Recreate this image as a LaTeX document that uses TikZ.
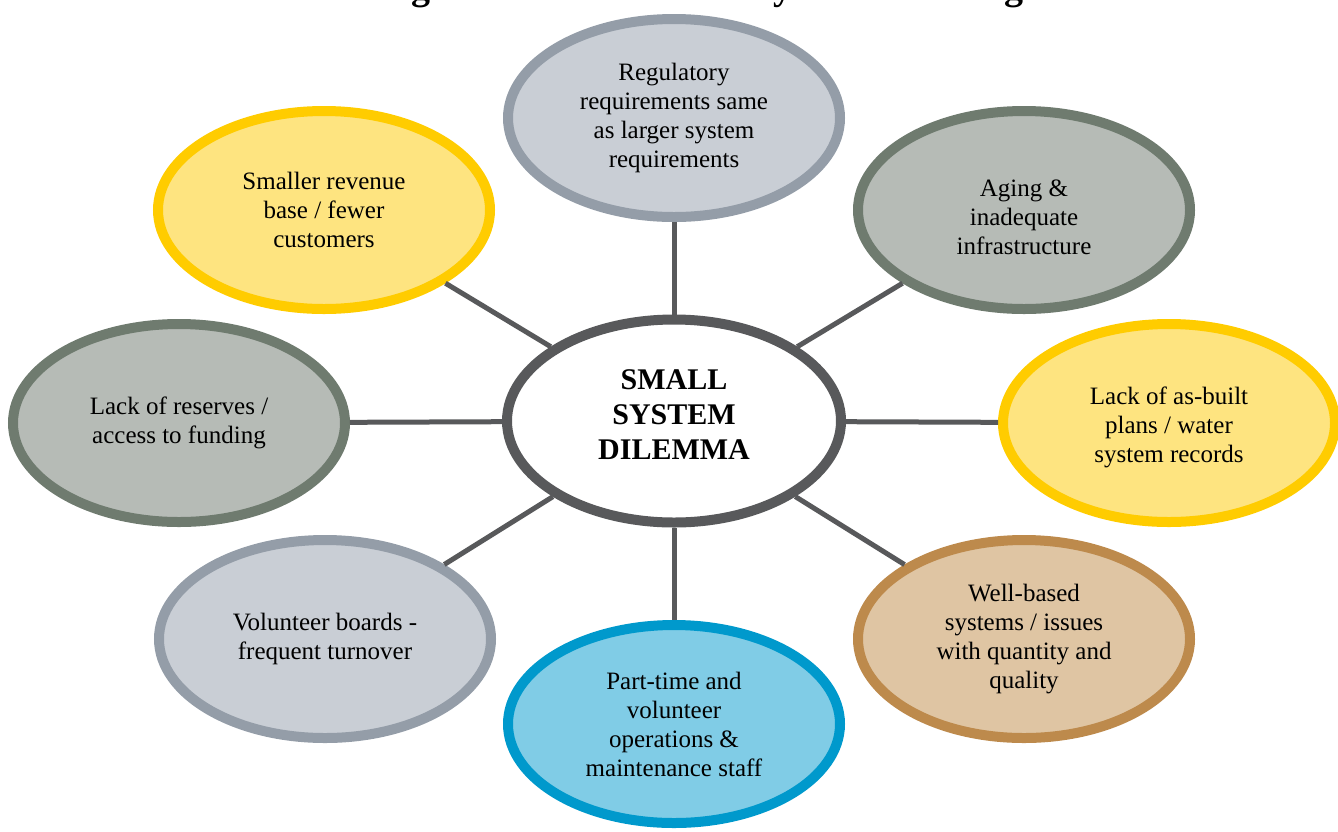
\documentclass[tikz,border=0pt]{standalone}
\usepackage{fontspec}
\setmainfont{Liberation Serif}
\usepackage{xcolor}
\usetikzlibrary{shapes.geometric}

\definecolor{slateline}{HTML}{949DA8}
\definecolor{slatefill}{HTML}{C9CED5}
\definecolor{sageline}{HTML}{6F7B6F}
\definecolor{sagefill}{HTML}{B6BBB6}
\definecolor{goldline}{HTML}{FFCC00}
\definecolor{goldfill}{HTML}{FEE480}
\definecolor{tanline}{HTML}{BD8A4C}
\definecolor{tanfill}{HTML}{DFC5A3}
\definecolor{skyline}{HTML}{0099CC}
\definecolor{skyfill}{HTML}{80CCE6}
\definecolor{hubgray}{HTML}{58595B}

\begin{document}
\begin{tikzpicture}[x=1pt,y=-1pt,
    issue/.style={ellipse,line width=10pt,minimum width=332pt,minimum height=198pt,
        inner sep=0pt,align=center,font=\fontsize{25}{29}\selectfont},
    slate/.style={issue,draw=slateline,fill=slatefill},
    sage/.style={issue,draw=sageline,fill=sagefill},
    gold/.style={issue,draw=goldline,fill=goldfill},
    tan/.style={issue,draw=tanline,fill=tanfill},
    sky/.style={issue,draw=skyline,fill=skyfill},
    hub/.style={issue,draw=hubgray,fill=white,minimum width=334pt,minimum height=203pt,
        font=\bfseries\fontsize{30}{35}\selectfont},
    link/.style={draw=hubgray,line width=5pt}]
    \useasboundingbox (0,0) rectangle (1338,831);

    % Caption, only its lower edge falls on the page
    \node[anchor=base west,inner sep=0pt,font=\bfseries\fontsize{38}{40}\selectfont]
        (title) at (378,-1) {Figure 1: Small Water System Challenges};

    % Centre ellipse
    \node[hub,text depth=12pt] (dilemma) at (674,421) {SMALL\\SYSTEM\\DILEMMA};

    % Surrounding challenges
    \node[slate] (rules) at (674,118) {Regulatory\\requirements same\\as larger system\\requirements};
    \node[sage,text height=90pt] (aging) at (1024,210) {Aging \&\\inadequate\\infrastructure};
    \node[gold,text height=85pt] (records) at (1169,423) {Lack of as-built\\plans / water\\system records};
    \node[tan] (wells) at (1024,639) {Well-based\\systems / issues\\with quantity and\\quality};
    \node[sky] (staff) at (674,724) {Part-time and\\volunteer\\operations \&\\maintenance staff};
    \node[slate] (boards) at (325,639) {Volunteer boards -\\frequent turnover};
    \node[sage] (funding) at (179,423) {Lack of reserves /\\access to funding};
    \node[gold] (revenue) at (324,210) {Smaller revenue\\base / fewer\\customers};

    % Spokes
    \foreach \n in {rules,aging,records,wells,staff,boards,funding,revenue} {
        \draw[link] (dilemma) -- (\n);
    }
\end{tikzpicture}
\end{document}
